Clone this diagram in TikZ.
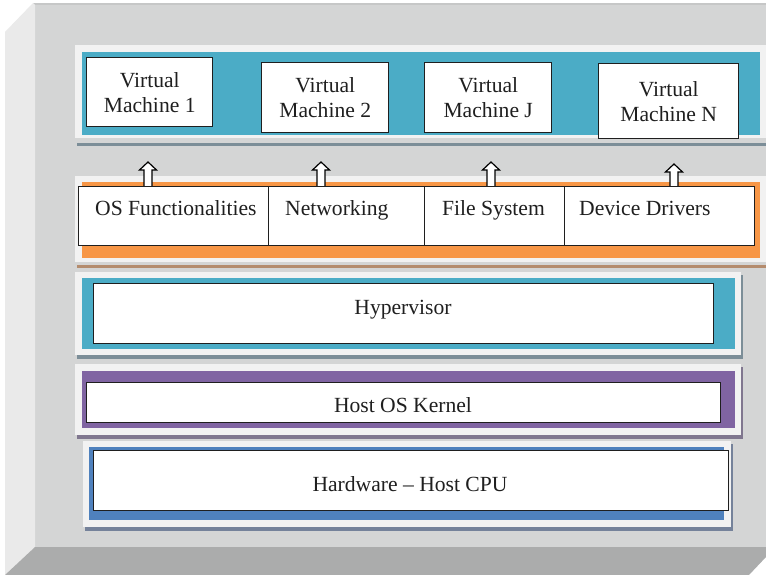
\documentclass[tikz,border=0pt]{standalone}
\usepackage{fontspec}
\setmainfont{Liberation Serif}
\definecolor{facecol}{HTML}{D4D5D5}
\definecolor{leftcol}{HTML}{EAEAEA}
\definecolor{botcol}{HTML}{ABACAC}
\definecolor{topcol}{HTML}{C6C7C7}
\definecolor{panelcol}{HTML}{F2F2F2}
\definecolor{vmblue}{HTML}{4BACC6}
\definecolor{orangecol}{HTML}{F79646}
\definecolor{purplecol}{HTML}{8064A2}
\definecolor{hwblue}{HTML}{4F81BD}
\definecolor{shA}{HTML}{7C8E98}
\definecolor{shB}{HTML}{B48C6E}
\definecolor{shD}{HTML}{80778F}
\definecolor{shE}{HTML}{75829A}
\definecolor{txtcol}{HTML}{1F1F1F}
\begin{document}
\begin{tikzpicture}[x=1pt,y=-1pt,
  font=\fontsize{21.6}{25}\selectfont,
  box/.style={draw=txtcol, line width=1.4pt, fill=white, inner sep=0pt, anchor=north west, text=txtcol, align=center},
  lbl/.style={inner sep=0pt, text=txtcol},
  harrow/.style={draw=black, fill=white, line width=1.2pt, line join=miter}]
\useasboundingbox (0,0) rectangle (766,575);
% 3D frame
\fill[white] (0,0) rectangle (766,575);
\fill[facecol] (35,5) rectangle (766,547);
\fill[topcol] (33,3) rectangle (766,5);
\fill[leftcol] (5,32) -- (33,3) -- (35,5) -- (35,547) -- (5,575) -- cycle;
\fill[botcol] (5,575) -- (35,547) -- (766,547) -- (766,557) -- (749,575) -- cycle;
% layer 1: virtual machines
\fill[panelcol] (75,45) rectangle (766,138);
\fill[vmblue] (82,52) rectangle (760,135);
\fill[shA] (77,143) rectangle (766,146);
% layer 2: functions
\fill[panelcol] (75,176) rectangle (766,262);
\fill[orangecol] (82,182) rectangle (760,258);
\fill[shB] (77,265) rectangle (766,268);
% layer 3: hypervisor
\fill[shA] (77,275) rectangle (743,359);
\fill[panelcol] (75,272) rectangle (741,355);
\fill[vmblue] (82,278) rectangle (735,349);
% layer 4: host OS
\fill[shD] (77,367) rectangle (743,439);
\fill[panelcol] (75,364) rectangle (741,435);
\fill[purplecol] (82,371) rectangle (735,428);
% layer 5: hardware
\fill[shE] (85,444) rectangle (733,531);
\fill[panelcol] (83,441) rectangle (731,527);
\fill[hwblue] (89,447) rectangle (724,520);
% VM boxes
\node[box, minimum width=126, minimum height=69] (vm1) at (86,57) {Virtual\\Machine 1};
\node[box, minimum width=127, minimum height=70] (vm2) at (261,62) {Virtual\\Machine 2};
\node[box, minimum width=127, minimum height=70] (vmj) at (424,62) {Virtual\\Machine J};
\node[box, minimum width=140, minimum height=75] (vmn) at (598,63) {Virtual\\Machine N};
% function boxes
\node[box, minimum width=190, minimum height=59] (os) at (78,186) {};
\node[box, minimum width=156, minimum height=59] (net) at (268,186) {};
\node[box, minimum width=140, minimum height=59] (fs) at (424,186) {};
\node[box, minimum width=190, minimum height=59] (dd) at (564,186) {};
\node[lbl, anchor=base west] (ost) at (95,215) {OS Functionalities};
\node[lbl, anchor=base west] (nett) at (285,215) {Networking};
\node[lbl, anchor=base west] (fst) at (442,215) {File System};
\node[lbl, anchor=base west] (ddt) at (579,215) {Device Drivers};
% lower layers
\node[box, minimum width=620, minimum height=60] (hyp) at (93,283) {};
\node[lbl, anchor=base] (hypt) at (403,314) {Hypervisor};
\node[box, minimum width=634, minimum height=40] (host) at (86,382) {};
\node[lbl, anchor=base] (hostt) at (403,412) {Host OS Kernel};
\node[box, minimum width=635, minimum height=60] (hw) at (93,450) {};
\node[lbl, anchor=base] (hwt) at (410,491) {Hardware -- Host CPU};
% hollow arrows
\coordinate (a1) at (148,186);
\coordinate (a2) at (321,186);
\coordinate (a3) at (491,186);
\coordinate (a4) at (674,186);
\draw[harrow] (a1) ++(-4,0) -- ++(0,-16) -- ++(-4.5,0) -- ++(8.5,-8) -- ++(8.5,8) -- ++(-4.5,0) -- ++(0,16);
\draw[harrow] (a2) ++(-4,0) -- ++(0,-16) -- ++(-4.5,0) -- ++(8.5,-8) -- ++(8.5,8) -- ++(-4.5,0) -- ++(0,16);
\draw[harrow] (a3) ++(-4,0) -- ++(0,-16) -- ++(-4.5,0) -- ++(8.5,-8) -- ++(8.5,8) -- ++(-4.5,0) -- ++(0,16);
\draw[harrow] (a4) ++(-4,0) -- ++(0,-14) -- ++(-4.5,0) -- ++(8.5,-8) -- ++(8.5,8) -- ++(-4.5,0) -- ++(0,14);
\end{tikzpicture}
\end{document}
